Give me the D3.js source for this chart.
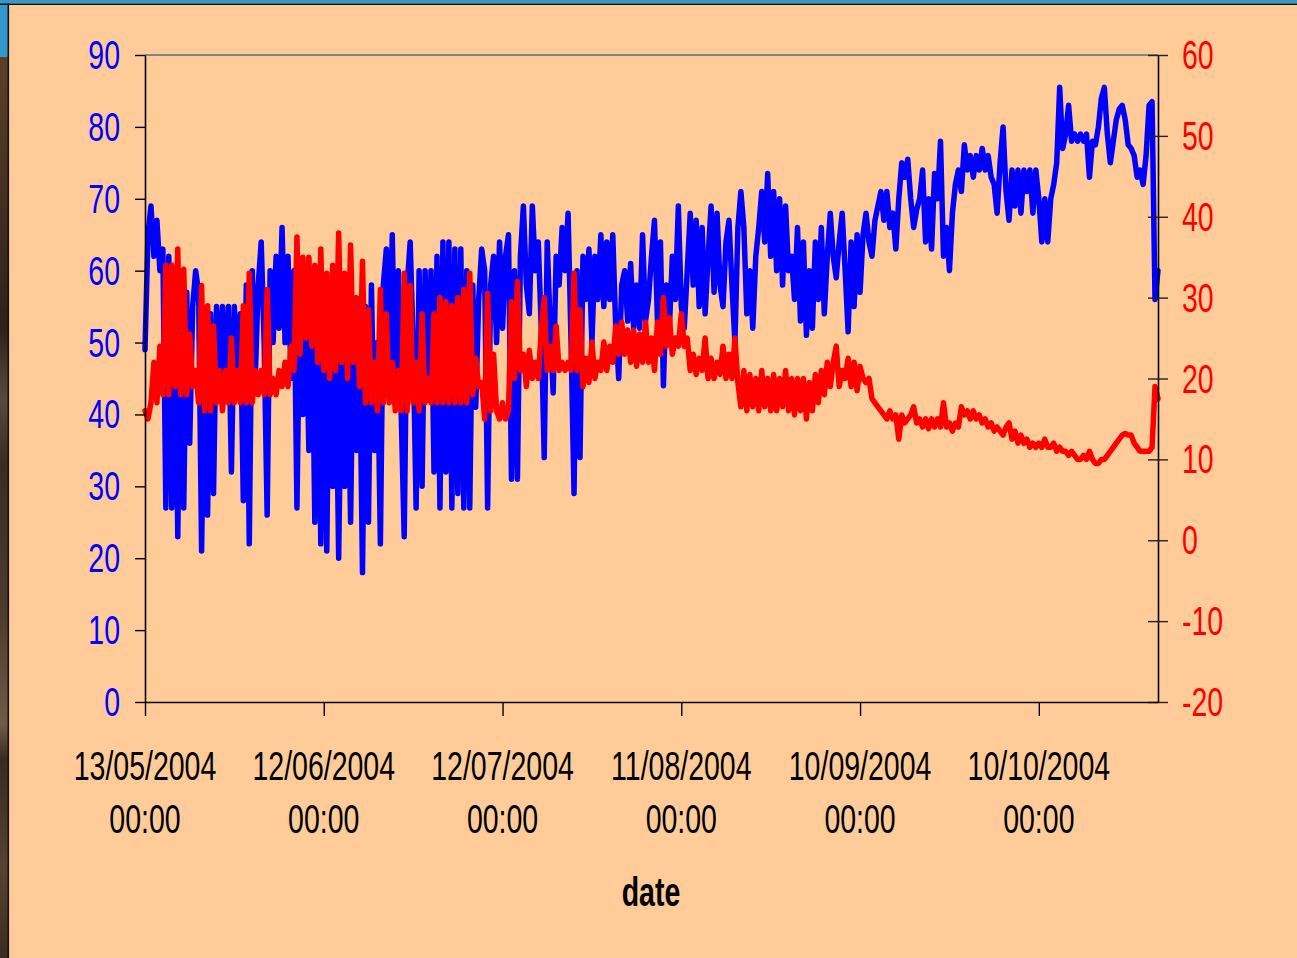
<!DOCTYPE html>
<html>
<head>
<meta charset="utf-8">
<script src="https://cdn.jsdelivr.net/npm/d3@7"></script>
<style>
  html, body { margin: 0; padding: 0; background: #FFCC99; overflow: hidden; }
  svg { display: block; }
</style>
</head>
<body>
<svg id="chart" width="1297" height="958"></svg>
<script>
// Logger readings, one every 12 hours from 13/05/2004 00:00
const startDate = new Date(Date.UTC(2004, 4, 13));
const endDate = new Date(Date.UTC(2004, 9, 30));
const stepHours = 12;

// Relative humidity (%), left axis
const humidity = [
  49,
  65,69,62,67,60,63,27,62,27,60,23,56,27,57,36,55,60,57,21,52,
  26,54,29,55,44,55,42,55,32,55,43,54,28,58,22,60,45,58,64,50,
  26,60,50,62,52,66,50,62,45,60,27,58,40,56,35,57,25,55,22,55,
  21,55,30,52,20,50,30,52,25,55,35,50,18,55,25,58,35,50,22,58,
  63,45,65,42,60,40,23,58,64,50,27,60,30,60,42,60,32,62,27,64,
  32,64,27,63,29,63,27,60,27,58,41,56,63,60,27,58,62,50,64,52,
  62,65,31,60,31,62,69,58,54,69,60,64,52,34,64,52,43,62,58,66,
  60,68,50,29,60,34,62,56,63,50,62,56,65,55,64,56,65,52,45,58,
  60,53,61,52,58,52,65,53,56,62,67,53,64,44,58,52,62,56,69,55,
  52,60,68,58,67,55,66,54,62,69,57,68,58,55,64,67,58,50,66,71,
  66,54,60,52,62,66,71,64,73.5,62,71,60,70,58,69,60,62,56,66,53,
  64,51,60,52,64,56,66,54,62,68,62,59,64,68,60,51.5,64,55,65,57,
  65,68,64,62,67,69,71,67,71,66,68,63,70,75,73,75.5,70,66,68.5,70,
  74,64,70,63,73.5,70,78,62,66,60,68,72,74,71,77.5,74,76,73,76,74,
  77,74,76,73,72,68,75,80,71,67,74,69,74,68,74,71,74,68,74,70,
  64,70,64,70,72,75,85.5,77,79,83,78,79,78,79,78,79,73,78,77.5,80,
  84,85.5,79,75,78,81,82.5,83,81,77.5,77,76,73,74,72,76,83,83.5,56,60
];

// Temperature (°C), right axis
const temperature = [
  16,
  15,17,22,17,24,18,34,18,34,19,36,18,33.5,18,25.5,19,21,17,31.5,16,
  29,16,26.5,17,21,16,21,17,25,17,21,17,29,17,33,17,21,18,21,18,
  31,18,20,18,21,19,22,19,24,21,37.5,23,35,25,35,24,34,22,36,21,
  33,20,34,21,38,22,33,20,36.5,22,30,19,34.5,17,28.5,17,22,16,31,17,
  28,17,22,16,21,16,33,16,31.5,17,22,16,28,17,20,17,28,17,30,17,
  29.5,17,29,17,30,17,31,17,33,18,22.5,19,19.5,15,30.5,16,23,16,15,17,
  15,16,29.5,20,32,21,23,19,23.5,20,22,20,26,30,21,24,21,26.5,21,22,
  21,22,21,33,21,28.5,19,22.5,19.5,24.5,20,22,21,24.5,21,24,22,26.5,23,27,
  23,26,22,26,21.5,25.5,22,27,22,25,21,27,23,30,24,27.5,23,25,24,28,
  24,25,21,23,20.5,22.5,21,25,20,22.5,20,22,20.5,24,20,23,20,25,19.5,16.5,
  21,16,20.5,16.5,20,16,21,16.5,20,16,20.5,16,20,16.5,21,16,20,15.5,20,16,
  20,15,19.5,16,20.5,17,21,18,22,19,22,24,19,21,20,22.5,19,22,18.5,21.5,
  20,19.5,20,17.5,17,16.5,16,15.5,15,16,15,15.5,12.5,15.5,14.5,15,15.5,16.5,14.5,15,
  14,15,13.8,15,14,15,14,17,14,14.5,13.5,14.5,14,16.5,15.5,16,15,16,15,15.5,
  14.5,15,14,14.5,13.5,14,13.5,13,14,14.5,12.5,13.5,12,13,12,12.5,11.5,12,11.5,12,
  11.5,12.5,11.5,11.5,12,11,11.5,11,11,10.5,11,10.5,10,10,10.5,10,11,10,9.5,9.5,
  10,10,10.5,11,11.5,12,12.5,13,13.2,13,13,12,11.5,11,11,11,11,11.5,19,17.5
];

const leftTicks = [0, 10, 20, 30, 40, 50, 60, 70, 80, 90];
const rightTicks = [-20, -10, 0, 10, 20, 30, 40, 50, 60];
const dateTicks = ["2004-05-13", "2004-06-12", "2004-07-12", "2004-08-11", "2004-09-10", "2004-10-10"];
const xTitle = "date";

// ---- layout ----
const W = 1297, H = 958;
const plot = { left: 145, right: 1158, top: 55, bottom: 702 };
const font = "'Liberation Sans', Arial, Helvetica, sans-serif";
const fontSize = 28.5;
const stretch = 1.4;   // tall, narrow lettering

const svg = d3.select("#chart");

// slide frame: peach page, blue strip on top, textured brown edge on the left
const defs = svg.append("defs");
const grad = defs.append("linearGradient").attr("id", "edge").attr("x1", 0).attr("y1", 0).attr("x2", 0).attr("y2", 1);
[[0, "#5c4128"], [0.12, "#4a3322"], [0.3, "#2e211a"], [0.38, "#5a4a3c"], [0.45, "#3b2c22"],
 [0.62, "#4d3b2d"], [0.74, "#6f5b48"], [0.78, "#3a2a20"], [0.9, "#564331"], [1, "#3c2b1f"]]
  .forEach(([o, c]) => grad.append("stop").attr("offset", o).attr("stop-color", c));

svg.append("rect").attr("width", W).attr("height", H).attr("fill", "#FFCC99");
svg.append("rect").attr("x", 0).attr("y", 57).attr("width", 8).attr("height", H - 57).attr("fill", "url(#edge)");
svg.append("rect").attr("x", 0).attr("y", 0).attr("width", 8).attr("height", 57).attr("fill", "#3399CC");
svg.append("rect").attr("x", 0).attr("y", 0).attr("width", W).attr("height", 3.5).attr("fill", "#3399CC");
svg.append("line").attr("x1", 0).attr("x2", W).attr("y1", 4.2).attr("y2", 4.2).attr("stroke", "#111").attr("stroke-width", 1.6);
svg.append("line").attr("x1", 8.3).attr("x2", 8.3).attr("y1", 3.5).attr("y2", H).attr("stroke", "#111").attr("stroke-width", 1.6);

// ---- scales ----
const x = d3.scaleUtc().domain([startDate, endDate]).range([plot.left, plot.right]);
const yL = d3.scaleLinear().domain([0, 90]).range([plot.bottom, plot.top]);
const yR = d3.scaleLinear().domain([-20, 60]).range([plot.bottom, plot.top]);
const timeAt = i => d3.utcHour.offset(startDate, i * stepHours);
const parseDay = d3.utcParse("%Y-%m-%d");
const tickDates = dateTicks.map(parseDay);

// plot frame top edge
svg.append("line")
  .attr("x1", plot.left).attr("x2", plot.right)
  .attr("y1", plot.top).attr("y2", plot.top)
  .attr("stroke", "#858585").attr("stroke-width", 2);

// ---- series ----
const lineL = d3.line().x((d, i) => x(timeAt(i))).y(d => yL(d));
const lineR = d3.line().x((d, i) => x(timeAt(i))).y(d => yR(d));

svg.append("path").datum(humidity)
  .attr("d", lineL).attr("fill", "none").attr("stroke", "#0000FF")
  .attr("stroke-width", 5.5).attr("stroke-linejoin", "round").attr("stroke-linecap", "round");

svg.append("path").datum(temperature)
  .attr("d", lineR).attr("fill", "none").attr("stroke", "#FF0000")
  .attr("stroke-width", 5.5).attr("stroke-linejoin", "round").attr("stroke-linecap", "round");

// ---- axes ----
function styleAxis(g, color) {
  g.select(".domain").attr("stroke", color).attr("stroke-width", 1.6);
  g.selectAll(".tick line").attr("stroke", color).attr("stroke-width", 1.4);
  g.selectAll(".tick text").remove();
}

const axL = svg.append("g").attr("transform", `translate(${plot.left},0)`)
  .call(d3.axisLeft(yL).tickValues(leftTicks).tickSize(10).tickSizeOuter(0).tickFormat(""));
styleAxis(axL, "#000");

const axR = svg.append("g").attr("transform", `translate(${plot.right},0)`)
  .call(d3.axisRight(yR).tickValues(rightTicks).tickSize(10).tickSizeOuter(0).tickFormat(""));
styleAxis(axR, "#000");
axR.selectAll(".tick line").attr("x1", -10).attr("stroke", "#222");

const axB = svg.append("g").attr("transform", `translate(0,${plot.bottom})`)
  .call(d3.axisBottom(x).tickValues(tickDates).tickSize(14).tickSizeOuter(0).tickFormat(""));
styleAxis(axB, "#000");

// stretched text helper
function label(parent, tx, ty, str, anchor, color, weight) {
  parent.append("g").attr("transform", `translate(${tx},${ty})`)
    .append("text")
    .attr("transform", `scale(1,${stretch})`)
    .attr("text-anchor", anchor)
    .attr("font-family", font)
    .attr("font-size", fontSize)
    .attr("font-weight", weight || "normal")
    .attr("fill", color)
    .text(str);
}

const labels = svg.append("g");
leftTicks.forEach(v => label(labels, 120, yL(v) + 14, String(v), "end", "#0000FF"));
rightTicks.forEach(v => label(labels, 1182, yR(v) + 14, String(v), "start", "#FF0000"));

const fmtDate = d3.utcFormat("%d/%m/%Y");
const fmtTime = d3.utcFormat("%H:%M");
tickDates.forEach(t => {
  label(labels, x(t), 780, fmtDate(t), "middle", "#000");
  label(labels, x(t), 833, fmtTime(t), "middle", "#000");
});

label(labels, 651, 906, xTitle, "middle", "#000", "bold");
</script>
</body>
</html>
